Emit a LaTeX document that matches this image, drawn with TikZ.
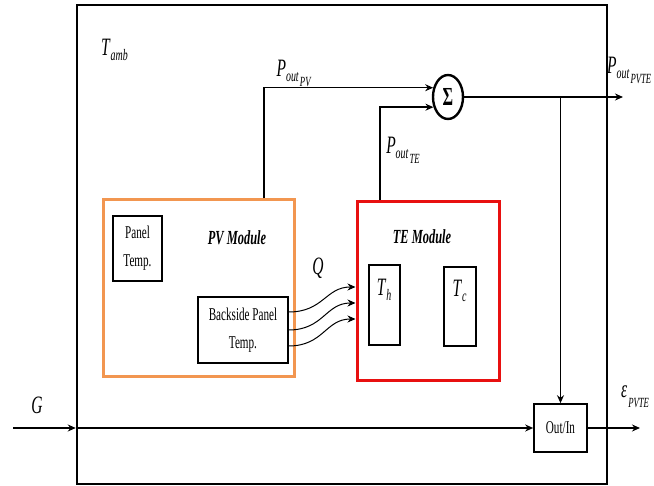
\documentclass[tikz,border=0pt]{standalone}
\usepackage{fontspec}
\setmainfont[FakeStretch=0.62]{Liberation Serif}
\usetikzlibrary{arrows.meta,shapes.geometric}
\definecolor{pvorange}{RGB}{242,150,80}
\definecolor{tered}{RGB}{232,16,16}
\newcommand{\sig}[3]{\textit{#1}\raisebox{-5pt}{\fontsize{16}{16}\selectfont\textit{#2}}\raisebox{-10pt}{\fontsize{14}{14}\selectfont\kern1pt\textit{#3}}}
\begin{document}
\begin{tikzpicture}[x=1pt,y=-1pt,
  wire/.style={draw,line width=1.4pt,-{Stealth[length=8pt,width=7pt]}},
  box/.style={draw,line width=1.2pt,inner sep=0pt,align=center,font=\fontsize{18}{28}\selectfont},
  lbl/.style={inner sep=0pt,font=\fontsize{25}{25}\selectfont},
  modlbl/.style={inner sep=0pt,font=\fontsize{20}{20}\selectfont\bfseries\itshape}]
\useasboundingbox (0,0) rectangle (654,486);
% system frame
\node[draw, line width=2.5pt, minimum width=530pt, minimum height=479pt] (sys) at (342,244.5) {};
\node[lbl] (tamb) at (115,52) {\sig{T}{amb}{}};
% PV module
\node[draw, pvorange, line width=3pt, minimum width=191pt, minimum height=177pt] (pv) at (198.5,288.5) {};
\node[modlbl] (pvname) at (237,238) {PV Module};
\node[box, minimum width=49pt, minimum height=65pt] (panel) at (137.5,248.5) {Panel\\Temp.};
\node[box, minimum width=90pt, minimum height=66pt] (back) at (243,330) {Backside Panel\\Temp.};
% TE module
\node[draw, tered, line width=3pt, minimum width=142pt, minimum height=179pt] (te) at (428,291.5) {};
\node[modlbl] (tename) at (422,237) {TE Module};
\node[box, minimum width=31pt, minimum height=80pt] (th) at (384.5,305) {};
\node[box, minimum width=32pt, minimum height=79pt] (tc) at (460,306.5) {};
\node[lbl] (thlbl) at ([yshift=13pt]th.center) {\sig{T}{h}{}};
\node[lbl] (tclbl) at ([yshift=13pt]tc.center) {\sig{T}{c}{}};
\node[lbl] (qlbl) at (318,268) {\textit{Q}};
% sum and output
\node[draw, ellipse, line width=2.4pt, minimum width=30pt, minimum height=44pt, inner sep=0pt, font=\fontsize{26}{26}\selectfont\bfseries] (sum) at (448,97) {Σ};
\node[draw, line width=1.6pt, minimum width=53pt, minimum height=48pt, font=\fontsize{18}{18}\selectfont] (outin) at (560.5,428) {Out/In};
\node[lbl] (poutpv) at (294,73) {\sig{P}{out}{PV}};
\node[lbl] (poutte) at (403,150) {\sig{P}{out}{TE}};
\node[lbl, anchor=west] (poutpvte) at (607,70) {\sig{P}{out}{PVTE}};
\node[lbl] (glbl) at (37,405) {\textit{G}};
\node[lbl, anchor=west] (eps) at (621,397) {\sig{ε}{}{PVTE}};
\coordinate (gin) at (13,428);
\coordinate (pvtend) at (623,97);
\coordinate (eend) at (640,428);
% connections
\draw[wire] ([xshift=65.5pt]pv.north) |- (sum.148);
\draw[wire] ([xshift=-48pt]te.north) |- (sum.215);
\draw[wire] (sum.east) -- (pvtend);
\draw[wire] (sum.east -| outin.north) -- (outin.north);
\draw[wire] (gin) -- (sys.west |- gin);
\draw[wire] (sys.west |- gin) -- (outin.west);
\draw[wire] (outin.east) -- (eend);
\foreach \a/\b in {18/4.5,0/-11.5,-16/-27.5}
  \draw[wire, line width=1pt] ([yshift=\a pt]back.east) .. controls +(35,0) and +(-30,0) .. ([yshift=\b pt]te.west);
\end{tikzpicture}
\end{document}
